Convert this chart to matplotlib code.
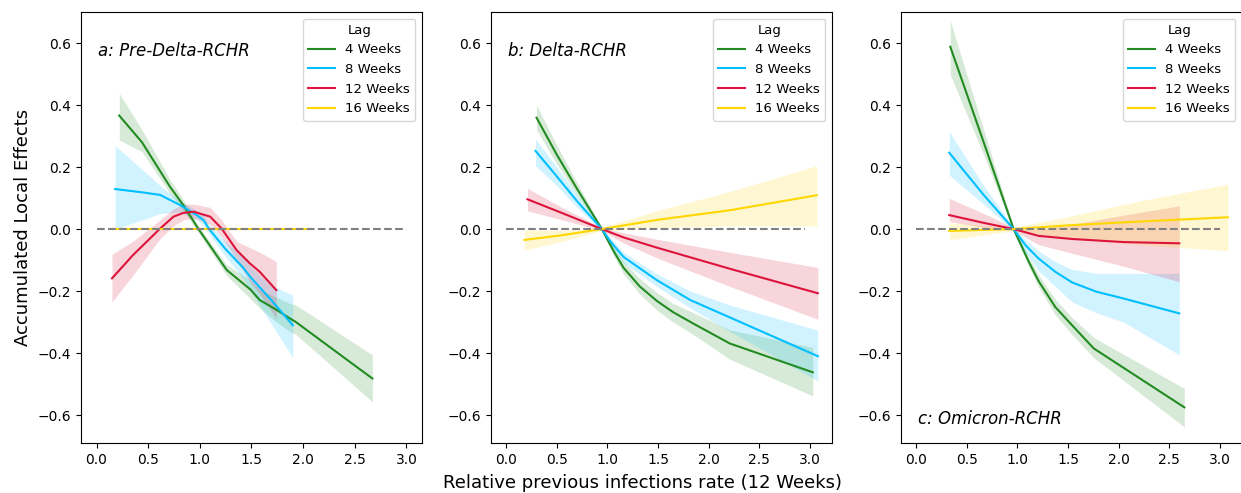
import matplotlib
matplotlib.use("Agg")
import matplotlib.pyplot as plt

lags = ["4 Weeks", "8 Weeks", "12 Weeks", "16 Weeks"]
colours = ["forestgreen", "deepskyblue", "crimson", "gold"]
panel_titles = ["a: Pre-Delta-RCHR", "b: Delta-RCHR", "c: Omicron-RCHR"]
ref_line_end = [3.0, 2.95, 3.0]

# a: Pre-Delta
a_green_x = [0.22, 0.44, 0.71, 0.84, 0.987, 1.26, 1.49, 1.58, 1.74, 1.87, 1.93, 2.67]
a_green_y = [0.366, 0.28, 0.137, 0.077, 0.0, -0.132, -0.195, -0.229, -0.26, -0.288, -0.30, -0.482]
a_green_lo = [0.287, 0.25, 0.115, 0.06, -0.012, -0.15, -0.225, -0.255, -0.30, -0.33, -0.34, -0.557]
a_green_hi = [0.438, 0.32, 0.16, 0.095, 0.01, -0.115, -0.165, -0.195, -0.22, -0.24, -0.245, -0.406]

a_blue_x = [0.18, 0.45, 0.617, 0.81, 0.97, 1.035, 1.09, 1.25, 1.42, 1.49, 1.68, 1.90]
a_blue_y = [0.129, 0.118, 0.11, 0.077, 0.045, 0.029, 0.0, -0.065, -0.125, -0.155, -0.225, -0.31]
a_blue_lo = [0.0, 0.03, 0.05, 0.055, 0.03, 0.01, -0.015, -0.09, -0.16, -0.20, -0.30, -0.415]
a_blue_hi = [0.269, 0.19, 0.14, 0.09, 0.06, 0.045, 0.015, -0.04, -0.09, -0.12, -0.18, -0.213]

a_red_x = [0.15, 0.35, 0.617, 0.745, 0.84, 0.94, 1.10, 1.21, 1.356, 1.485, 1.58, 1.74]
a_red_y = [-0.159, -0.085, 0.002, 0.04, 0.052, 0.056, 0.04, 0.002, -0.068, -0.111, -0.138, -0.197]
a_red_lo = [-0.235, -0.15, -0.03, 0.01, 0.03, 0.035, 0.015, -0.025, -0.10, -0.17, -0.21, -0.288]
a_red_hi = [-0.081, -0.04, 0.03, 0.065, 0.08, 0.08, 0.07, 0.03, -0.04, -0.06, -0.075, -0.105]

a_yellow_x = [0.17, 0.5, 1.0, 1.5, 2.05]
a_yellow_y = [0.0, 0.0, 0.0, 0.0, 0.0]
a_yellow_lo = [0.0, 0.0, 0.0, 0.0, 0.0]
a_yellow_hi = [0.0, 0.0, 0.0, 0.0, 0.0]

# b: Delta
b_green_x = [0.30, 0.50, 0.70, 0.945, 1.06, 1.16, 1.32, 1.49, 1.65, 1.85, 2.21, 3.03]
b_green_y = [0.359, 0.24, 0.13, 0.0, -0.07, -0.125, -0.185, -0.232, -0.268, -0.305, -0.369, -0.462]
b_green_lo = [0.32, 0.21, 0.11, -0.005, -0.085, -0.145, -0.21, -0.262, -0.30, -0.34, -0.42, -0.538]
b_green_hi = [0.40, 0.27, 0.15, 0.005, -0.055, -0.105, -0.16, -0.205, -0.24, -0.27, -0.325, -0.382]

b_blue_x = [0.29, 0.50, 0.70, 0.945, 1.03, 1.16, 1.49, 1.82, 2.21, 3.08]
b_blue_y = [0.252, 0.17, 0.09, 0.0, -0.04, -0.09, -0.165, -0.229, -0.285, -0.41]
b_blue_lo = [0.204, 0.14, 0.07, -0.005, -0.052, -0.11, -0.185, -0.255, -0.33, -0.49]
b_blue_hi = [0.29, 0.20, 0.11, 0.005, -0.028, -0.075, -0.145, -0.2, -0.245, -0.326]

b_red_x = [0.21, 0.55, 0.945, 1.16, 1.49, 2.21, 3.08]
b_red_y = [0.096, 0.052, 0.0, -0.027, -0.06, -0.128, -0.207]
b_red_lo = [0.059, 0.03, -0.005, -0.045, -0.093, -0.185, -0.291]
b_red_hi = [0.131, 0.07, 0.005, -0.012, -0.033, -0.075, -0.124]

b_yellow_x = [0.18, 0.55, 0.945, 1.5, 2.2, 3.07]
b_yellow_y = [-0.035, -0.02, 0.0, 0.03, 0.06, 0.109]
b_yellow_lo = [-0.068, -0.04, -0.005, 0.005, 0.01, 0.01]
b_yellow_hi = [-0.003, -0.005, 0.005, 0.06, 0.12, 0.204]

# c: Omicron
c_green_x = [0.337, 0.667, 0.963, 1.013, 1.112, 1.21, 1.376, 1.54, 1.755, 2.65]
c_green_y = [0.588, 0.28, 0.0, -0.035, -0.105, -0.168, -0.252, -0.31, -0.385, -0.575]
c_green_lo = [0.497, 0.24, -0.005, -0.045, -0.12, -0.188, -0.277, -0.34, -0.415, -0.638]
c_green_hi = [0.672, 0.32, 0.005, -0.025, -0.09, -0.148, -0.227, -0.285, -0.35, -0.514]

c_blue_x = [0.327, 0.667, 0.963, 1.08, 1.21, 1.376, 1.54, 1.78, 2.05, 2.60]
c_blue_y = [0.246, 0.11, 0.0, -0.052, -0.095, -0.138, -0.172, -0.202, -0.224, -0.272]
c_blue_lo = [0.174, 0.08, -0.005, -0.075, -0.135, -0.185, -0.235, -0.27, -0.30, -0.406]
c_blue_hi = [0.314, 0.14, 0.005, -0.035, -0.07, -0.105, -0.13, -0.143, -0.143, -0.143]

c_red_x = [0.327, 0.667, 0.963, 1.21, 1.54, 2.05, 2.60]
c_red_y = [0.045, 0.02, 0.0, -0.022, -0.032, -0.042, -0.046]
c_red_lo = [0.024, 0.005, -0.005, -0.05, -0.078, -0.12, -0.17]
c_red_hi = [0.099, 0.05, 0.005, 0.0, 0.015, 0.045, 0.075]

c_yellow_x = [0.327, 0.963, 1.5, 2.2, 3.08]
c_yellow_y = [-0.006, 0.0, 0.012, 0.024, 0.038]
c_yellow_lo = [-0.035, -0.005, -0.03, -0.05, -0.07]
c_yellow_hi = [0.02, 0.005, 0.04, 0.09, 0.145]

panels = [
    [(a_green_x, a_green_y, a_green_lo, a_green_hi),
     (a_blue_x, a_blue_y, a_blue_lo, a_blue_hi),
     (a_red_x, a_red_y, a_red_lo, a_red_hi),
     (a_yellow_x, a_yellow_y, a_yellow_lo, a_yellow_hi)],
    [(b_green_x, b_green_y, b_green_lo, b_green_hi),
     (b_blue_x, b_blue_y, b_blue_lo, b_blue_hi),
     (b_red_x, b_red_y, b_red_lo, b_red_hi),
     (b_yellow_x, b_yellow_y, b_yellow_lo, b_yellow_hi)],
    [(c_green_x, c_green_y, c_green_lo, c_green_hi),
     (c_blue_x, c_blue_y, c_blue_lo, c_blue_hi),
     (c_red_x, c_red_y, c_red_lo, c_red_hi),
     (c_yellow_x, c_yellow_y, c_yellow_lo, c_yellow_hi)],
]

fig = plt.figure(figsize=(12.41, 4.93), dpi=100)
lefts = [81, 491, 901]
for i, series in enumerate(panels):
    ax = fig.add_axes([lefts[i] / 1241, 50 / 493, 341 / 1241, 431 / 493])
    for (x, y, lo, hi), lab, col in zip(series, lags, colours):
        ax.fill_between(x, lo, hi, color=col, alpha=0.18, linewidth=0)
        ax.plot(x, y, color=col, lw=1.5, label=lab)
    ax.hlines(0, 0, ref_line_end[i], colors="gray", linestyles="--", lw=1.5)
    ax.set_xlim(-0.15, 3.22 if i else 3.15)
    ax.set_ylim(-0.69, 0.70)
    ax.set_xticks([0.0, 0.5, 1.0, 1.5, 2.0, 2.5, 3.0])
    ax.set_yticks([-0.6, -0.4, -0.2, 0.0, 0.2, 0.4, 0.6])
    ax.tick_params(labelsize=10)
    ax.legend(title="Lag", loc="upper right", fontsize=9.5, title_fontsize=9.5)
    if i == 2:
        ax.text(0.05, 0.044, panel_titles[i], transform=ax.transAxes,
                fontsize=12, style="italic")
    else:
        ax.text(0.05, 0.899, panel_titles[i], transform=ax.transAxes,
                fontsize=12, style="italic")
    if i == 0:
        ax.set_ylabel("Accumulated Local Effects", fontsize=13)

fig.text(0.518, 0.010, "Relative previous infections rate (12 Weeks)",
         ha="center", fontsize=13)

plt.savefig("out.png", dpi=100)
